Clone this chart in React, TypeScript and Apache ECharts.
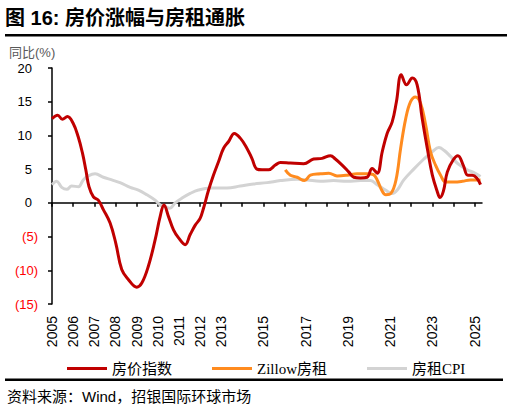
import React, { useEffect, useRef } from 'react';
import * as echarts from 'echarts';

// ---- Data ----
const seriesNames = ['房价指数', 'Zillow房租', '房租CPI'];

const houseDates = [
  2005.0, 2005.27, 2005.49, 2005.73, 2006.0, 2006.24, 2006.44, 2006.6, 2006.75, 2006.96,
  2007.19, 2007.43, 2007.75, 2008.02, 2008.3, 2008.62, 2009.01, 2009.25, 2009.56, 2009.88,
  2010.12, 2010.3, 2010.51, 2010.75, 2010.99, 2011.3, 2011.54, 2011.78, 2012.01, 2012.17,
  2012.41, 2012.64, 2012.88, 2013.12, 2013.36, 2013.63, 2013.91, 2014.19, 2014.46, 2014.7,
  2014.94, 2015.25, 2015.57, 2015.81, 2016.28, 2016.91, 2017.38, 2017.78, 2018.18, 2018.41,
  2018.73, 2019.04, 2019.28, 2019.6, 2019.91, 2020.15, 2020.39, 2020.63, 2020.86, 2021.1,
  2021.3, 2021.53, 2021.78, 2022.05, 2022.28, 2022.52, 2022.76, 2023.0, 2023.23, 2023.36,
  2023.52, 2023.71, 2023.99, 2024.21, 2024.46, 2024.68, 2024.89, 2025.1, 2025.28,
];
const houseValues = [
  12.5, 13.0, 12.4, 12.8, 11.8, 9.8, 7.4, 4.9, 2.4, 0.9,
  0.4, -1.0, -3.0, -6.0, -9.9, -11.4, -12.5, -11.9, -9.4, -5.5,
  -2.0, -0.3, -2.0, -4.0, -5.2, -6.2, -4.7, -3.3, -2.3, -0.8,
  1.9, 4.1, 6.1, 8.1, 9.1, 10.3, 9.6, 8.3, 6.6, 5.0,
  4.9, 4.9, 5.6, 6.0, 5.9, 5.8, 6.5, 6.6, 7.0, 6.5,
  5.6, 4.6, 3.8, 3.7, 3.8, 5.1, 4.4, 7.6, 10.3, 12.0,
  15.0, 19.0, 17.5, 18.5, 17.5, 12.5, 8.1, 4.1, 1.7, 0.8,
  1.7, 4.6, 6.4, 7.0, 5.6, 4.1, 4.1, 3.7, 2.7,
];

const zillowDates = [
  2016.04, 2016.28, 2016.6, 2016.95, 2017.23, 2017.7, 2018.1, 2018.49, 2018.97, 2019.44,
  2019.91, 2020.2, 2020.39, 2020.6, 2020.8, 2021.04, 2021.28, 2021.5, 2021.74, 2021.97,
  2022.2, 2022.44, 2022.68, 2022.91, 2023.15, 2023.39, 2023.63, 2024.02, 2024.42, 2024.8,
  2025.28,
];
const zillowValues = [
  4.9, 4.1, 3.8, 3.3, 4.1, 4.3, 4.4, 4.0, 4.1, 4.3,
  4.3, 4.2, 3.4, 1.9, 1.2, 1.4, 3.4, 8.1, 12.5, 15.0,
  15.7, 14.8, 11.6, 7.6, 5.6, 4.1, 3.1, 3.1, 3.2, 3.4,
  3.4,
];

const cpiDates = [
  2005.0, 2005.22, 2005.46, 2005.7, 2005.93, 2006.25, 2006.48, 2006.72, 2007.04, 2007.43,
  2007.83, 2008.22, 2008.7, 2009.09, 2009.49, 2009.88, 2010.12, 2010.36, 2010.57, 2010.83,
  2011.15, 2011.54, 2011.93, 2012.49, 2013.28, 2013.91, 2014.54, 2015.18, 2015.81, 2016.6,
  2017.07, 2017.7, 2018.33, 2018.97, 2019.6, 2020.07, 2020.39, 2020.78, 2021.1, 2021.34,
  2021.65, 2022.12, 2022.6, 2023.0, 2023.31, 2023.55, 2023.86, 2024.25, 2024.65, 2024.97,
  2025.28,
];
const cpiValues = [
  2.7, 3.2, 2.3, 2.0, 2.5, 2.4, 3.4, 4.0, 4.3, 3.8,
  3.4, 3.0, 2.3, 1.9, 1.2, 0.4, -0.3, -0.6, -0.8, 0.0,
  0.7, 1.4, 1.9, 2.2, 2.2, 2.5, 2.8, 3.0, 3.3, 3.5,
  3.4, 3.2, 3.3, 3.2, 3.3, 3.3, 2.7, 1.9, 1.4, 1.9,
  3.4, 5.0, 6.5, 7.6, 8.2, 7.8, 6.9, 5.7, 4.9, 4.5,
  3.9,
];

const tickYears = [
  2005, 2006, 2007, 2008, 2009, 2010, 2011, 2012, 2013, 2014, 2015,
  2016, 2017, 2018, 2019, 2020, 2021, 2022, 2023, 2024, 2025,
];
const labelYears = [
  2005, 2006, 2007, 2008, 2009, 2010, 2011, 2012, 2013, 2015, 2017, 2019, 2021, 2023, 2025,
];

const zip = (xs: number[], ys: number[]) => xs.map((x, i) => [x, ys[i]]);

const SANS = 'Liberation Sans, Arial, Noto Sans CJK SC, sans-serif';
const SERIF = 'Liberation Serif, Times New Roman, Noto Sans CJK SC, serif';

export default function App() {
  const ref = useRef<HTMLDivElement>(null);

  useEffect(() => {
    if (!ref.current) return;
    const chart = echarts.init(ref.current, null, { renderer: 'svg' });
    const xCommon = {
      type: 'value',
      min: 2005,
      max: 2025.35,
      splitLine: { show: false },
    };
    chart.setOption({
      animation: false,
      backgroundColor: '#ffffff',
      grid: { left: 52, top: 68, width: 430, height: 236, containLabel: false },
      xAxis: [
        {
          ...xCommon,
          position: 'bottom',
          axisLine: { show: true, onZero: true, lineStyle: { color: '#000', width: 1.5 } },
          axisTick: {
            show: true,
            length: 4,
            customValues: tickYears,
            lineStyle: { color: '#000', width: 1.5 },
          },
          axisLabel: { show: false },
        },
        {
          ...xCommon,
          position: 'bottom',
          axisLine: { show: false, onZero: false },
          axisTick: { show: false },
          axisLabel: {
            show: true,
            customValues: labelYears,
            rotate: 90,
            margin: 12,
            fontSize: 14,
            fontFamily: SANS,
            color: '#000',
            formatter: (v: number) => String(Math.round(v)),
          },
        },
      ],
      yAxis: {
        type: 'value',
        min: -15,
        max: 20,
        interval: 5,
        splitLine: { show: false },
        axisLine: { show: true, lineStyle: { color: '#000', width: 1.5 } },
        axisTick: { show: true, length: 4, lineStyle: { color: '#000', width: 1.5 } },
        axisLabel: {
          margin: 14,
          fontSize: 13,
          fontFamily: SANS,
          formatter: (v: number) => (v < 0 ? `{n|(${-v})}` : `{p|${v}}`),
          rich: {
            p: { fontSize: 13, fontFamily: SANS, color: '#000', padding: [0, 6, 0, 0] },
            n: { fontSize: 13, fontFamily: SANS, color: '#FF0000' },
          },
        },
      },
      legend: {
        data: seriesNames,
        left: 62,
        top: 356,
        icon: 'rect',
        itemWidth: 40,
        itemHeight: 3,
        itemGap: 40,
        textStyle: { fontSize: 15, fontFamily: SERIF, color: '#000' },
      },
      series: [
        {
          name: seriesNames[2],
          type: 'line',
          data: zip(cpiDates, cpiValues),
          showSymbol: false,
          symbol: 'none',
          smooth: 0.4,
          lineStyle: { color: '#D3D3D3', width: 3 },
          itemStyle: { color: '#D3D3D3' },
          z: 2,
        },
        {
          name: seriesNames[1],
          type: 'line',
          data: zip(zillowDates, zillowValues),
          showSymbol: false,
          symbol: 'none',
          smooth: 0.4,
          lineStyle: { color: '#FF8B1F', width: 3 },
          itemStyle: { color: '#FF8B1F' },
          z: 3,
        },
        {
          name: seriesNames[0],
          type: 'line',
          data: zip(houseDates, houseValues),
          showSymbol: false,
          symbol: 'none',
          smooth: 0.4,
          lineStyle: { color: '#C00000', width: 3 },
          itemStyle: { color: '#C00000' },
          z: 4,
        },
      ],
      graphic: [
        {
          type: 'text',
          left: 5,
          top: 8,
          style: {
            text: '图 16: 房价涨幅与房租通胀',
            fontSize: 20,
            fontWeight: 'bold',
            fontFamily: SANS,
            fill: '#000',
          },
        },
        {
          type: 'rect',
          shape: { x: 5, y: 34, width: 502, height: 2.5 },
          style: { fill: '#000' },
        },
        {
          type: 'text',
          left: 9,
          top: 46,
          style: {
            text: '同比(%)',
            fontSize: 13,
            fontFamily: SANS,
            fill: '#595959',
          },
        },
        {
          type: 'rect',
          shape: { x: 5, y: 378.5, width: 498, height: 2.5 },
          style: { fill: '#000' },
        },
        {
          type: 'text',
          left: 7,
          top: 389,
          style: {
            text: '资料来源：Wind，招银国际环球市场',
            fontSize: 15,
            fontFamily: SANS,
            fill: '#000',
          },
        },
      ],
    });
    return () => chart.dispose();
  }, []);

  return (
    <div
      ref={ref}
      style={{ position: 'fixed', left: 0, top: 0, width: 512, height: 413 }}
    />
  );
}
